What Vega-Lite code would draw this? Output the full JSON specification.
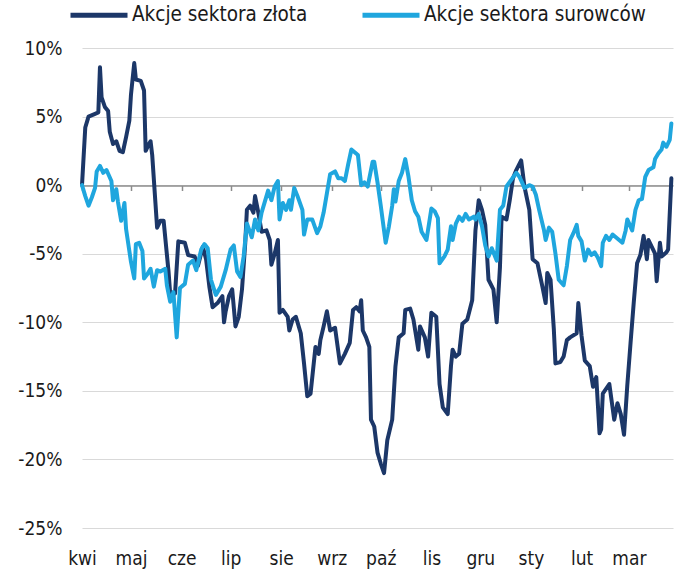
{
  "$schema": "https://vega.github.io/schema/vega-lite/v6.json",
  "width": 591,
  "height": 480,
  "autosize": {"type": "none"},
  "padding": {"left": 82, "top": 48, "right": 22, "bottom": 59},
  "background": "white",
  "config": {
    "view": {"stroke": null},
    "font": "Liberation Sans Narrow, DejaVu Sans Condensed, Roboto, sans-serif"
  },
  "data": {
    "values": [
      {"date": "2023-04-01", "series": "Akcje sektora złota", "value": 0.0},
      {"date": "2023-04-03", "series": "Akcje sektora złota", "value": 4.2},
      {"date": "2023-04-05", "series": "Akcje sektora złota", "value": 5.0},
      {"date": "2023-04-09", "series": "Akcje sektora złota", "value": 5.2},
      {"date": "2023-04-11", "series": "Akcje sektora złota", "value": 5.3},
      {"date": "2023-04-12", "series": "Akcje sektora złota", "value": 8.6},
      {"date": "2023-04-13", "series": "Akcje sektora złota", "value": 6.4},
      {"date": "2023-04-15", "series": "Akcje sektora złota", "value": 5.7},
      {"date": "2023-04-17", "series": "Akcje sektora złota", "value": 5.4},
      {"date": "2023-04-18", "series": "Akcje sektora złota", "value": 3.9},
      {"date": "2023-04-20", "series": "Akcje sektora złota", "value": 3.0},
      {"date": "2023-04-22", "series": "Akcje sektora złota", "value": 3.2},
      {"date": "2023-04-24", "series": "Akcje sektora złota", "value": 2.5},
      {"date": "2023-04-26", "series": "Akcje sektora złota", "value": 2.4},
      {"date": "2023-04-28", "series": "Akcje sektora złota", "value": 3.5},
      {"date": "2023-04-30", "series": "Akcje sektora złota", "value": 4.7},
      {"date": "2023-05-01", "series": "Akcje sektora złota", "value": 6.6},
      {"date": "2023-05-03", "series": "Akcje sektora złota", "value": 8.9},
      {"date": "2023-05-04", "series": "Akcje sektora złota", "value": 7.7},
      {"date": "2023-05-07", "series": "Akcje sektora złota", "value": 7.6},
      {"date": "2023-05-09", "series": "Akcje sektora złota", "value": 6.9},
      {"date": "2023-05-10", "series": "Akcje sektora złota", "value": 2.5},
      {"date": "2023-05-12", "series": "Akcje sektora złota", "value": 3.0},
      {"date": "2023-05-13", "series": "Akcje sektora złota", "value": 3.2},
      {"date": "2023-05-14", "series": "Akcje sektora złota", "value": 2.2},
      {"date": "2023-05-17", "series": "Akcje sektora złota", "value": -3.1},
      {"date": "2023-05-19", "series": "Akcje sektora złota", "value": -2.6},
      {"date": "2023-05-21", "series": "Akcje sektora złota", "value": -2.6},
      {"date": "2023-05-24", "series": "Akcje sektora złota", "value": -6.3},
      {"date": "2023-05-25", "series": "Akcje sektora złota", "value": -7.9},
      {"date": "2023-05-28", "series": "Akcje sektora złota", "value": -7.9},
      {"date": "2023-05-30", "series": "Akcje sektora złota", "value": -4.1},
      {"date": "2023-06-03", "series": "Akcje sektora złota", "value": -4.2},
      {"date": "2023-06-05", "series": "Akcje sektora złota", "value": -5.1},
      {"date": "2023-06-09", "series": "Akcje sektora złota", "value": -5.2},
      {"date": "2023-06-11", "series": "Akcje sektora złota", "value": -5.9},
      {"date": "2023-06-14", "series": "Akcje sektora złota", "value": -4.5},
      {"date": "2023-06-16", "series": "Akcje sektora złota", "value": -5.4},
      {"date": "2023-06-18", "series": "Akcje sektora złota", "value": -7.4},
      {"date": "2023-06-20", "series": "Akcje sektora złota", "value": -8.9},
      {"date": "2023-06-23", "series": "Akcje sektora złota", "value": -8.6},
      {"date": "2023-06-26", "series": "Akcje sektora złota", "value": -8.1},
      {"date": "2023-06-27", "series": "Akcje sektora złota", "value": -10.0},
      {"date": "2023-06-28", "series": "Akcje sektora złota", "value": -9.2},
      {"date": "2023-06-30", "series": "Akcje sektora złota", "value": -8.1},
      {"date": "2023-07-02", "series": "Akcje sektora złota", "value": -7.6},
      {"date": "2023-07-04", "series": "Akcje sektora złota", "value": -10.3},
      {"date": "2023-07-06", "series": "Akcje sektora złota", "value": -9.6},
      {"date": "2023-07-08", "series": "Akcje sektora złota", "value": -7.6},
      {"date": "2023-07-10", "series": "Akcje sektora złota", "value": -4.2},
      {"date": "2023-07-11", "series": "Akcje sektora złota", "value": -1.8},
      {"date": "2023-07-13", "series": "Akcje sektora złota", "value": -1.5},
      {"date": "2023-07-15", "series": "Akcje sektora złota", "value": -2.0},
      {"date": "2023-07-16", "series": "Akcje sektora złota", "value": -0.8},
      {"date": "2023-07-18", "series": "Akcje sektora złota", "value": -2.0},
      {"date": "2023-07-20", "series": "Akcje sektora złota", "value": -3.4},
      {"date": "2023-07-23", "series": "Akcje sektora złota", "value": -3.3},
      {"date": "2023-07-25", "series": "Akcje sektora złota", "value": -4.0},
      {"date": "2023-07-26", "series": "Akcje sektora złota", "value": -5.8},
      {"date": "2023-07-28", "series": "Akcje sektora złota", "value": -5.0},
      {"date": "2023-07-30", "series": "Akcje sektora złota", "value": -4.0},
      {"date": "2023-07-31", "series": "Akcje sektora złota", "value": -9.3},
      {"date": "2023-08-02", "series": "Akcje sektora złota", "value": -9.1},
      {"date": "2023-08-05", "series": "Akcje sektora złota", "value": -9.6},
      {"date": "2023-08-06", "series": "Akcje sektora złota", "value": -10.6},
      {"date": "2023-08-08", "series": "Akcje sektora złota", "value": -9.8},
      {"date": "2023-08-10", "series": "Akcje sektora złota", "value": -9.6},
      {"date": "2023-08-13", "series": "Akcje sektora złota", "value": -10.8},
      {"date": "2023-08-15", "series": "Akcje sektora złota", "value": -13.0},
      {"date": "2023-08-17", "series": "Akcje sektora złota", "value": -15.4},
      {"date": "2023-08-19", "series": "Akcje sektora złota", "value": -15.2},
      {"date": "2023-08-22", "series": "Akcje sektora złota", "value": -11.8},
      {"date": "2023-08-24", "series": "Akcje sektora złota", "value": -12.3},
      {"date": "2023-08-25", "series": "Akcje sektora złota", "value": -11.3},
      {"date": "2023-08-27", "series": "Akcje sektora złota", "value": -10.3},
      {"date": "2023-08-29", "series": "Akcje sektora złota", "value": -9.2},
      {"date": "2023-08-31", "series": "Akcje sektora złota", "value": -10.6},
      {"date": "2023-09-03", "series": "Akcje sektora złota", "value": -10.4},
      {"date": "2023-09-06", "series": "Akcje sektora złota", "value": -13.0},
      {"date": "2023-09-09", "series": "Akcje sektora złota", "value": -12.3},
      {"date": "2023-09-12", "series": "Akcje sektora złota", "value": -11.5},
      {"date": "2023-09-14", "series": "Akcje sektora złota", "value": -9.1},
      {"date": "2023-09-16", "series": "Akcje sektora złota", "value": -8.9},
      {"date": "2023-09-18", "series": "Akcje sektora złota", "value": -9.2},
      {"date": "2023-09-19", "series": "Akcje sektora złota", "value": -8.4},
      {"date": "2023-09-20", "series": "Akcje sektora złota", "value": -10.6},
      {"date": "2023-09-22", "series": "Akcje sektora złota", "value": -11.1},
      {"date": "2023-09-24", "series": "Akcje sektora złota", "value": -11.8},
      {"date": "2023-09-25", "series": "Akcje sektora złota", "value": -17.1},
      {"date": "2023-09-27", "series": "Akcje sektora złota", "value": -17.6},
      {"date": "2023-09-29", "series": "Akcje sektora złota", "value": -19.5},
      {"date": "2023-10-01", "series": "Akcje sektora złota", "value": -20.3},
      {"date": "2023-10-03", "series": "Akcje sektora złota", "value": -21.0},
      {"date": "2023-10-05", "series": "Akcje sektora złota", "value": -18.6},
      {"date": "2023-10-08", "series": "Akcje sektora złota", "value": -17.1},
      {"date": "2023-10-10", "series": "Akcje sektora złota", "value": -13.2},
      {"date": "2023-10-12", "series": "Akcje sektora złota", "value": -11.1},
      {"date": "2023-10-15", "series": "Akcje sektora złota", "value": -10.8},
      {"date": "2023-10-16", "series": "Akcje sektora złota", "value": -9.1},
      {"date": "2023-10-19", "series": "Akcje sektora złota", "value": -9.0},
      {"date": "2023-10-21", "series": "Akcje sektora złota", "value": -9.8},
      {"date": "2023-10-24", "series": "Akcje sektora złota", "value": -12.0},
      {"date": "2023-10-25", "series": "Akcje sektora złota", "value": -10.3},
      {"date": "2023-10-28", "series": "Akcje sektora złota", "value": -11.1},
      {"date": "2023-10-30", "series": "Akcje sektora złota", "value": -12.5},
      {"date": "2023-11-01", "series": "Akcje sektora złota", "value": -9.3},
      {"date": "2023-11-04", "series": "Akcje sektora złota", "value": -9.6},
      {"date": "2023-11-06", "series": "Akcje sektora złota", "value": -14.5},
      {"date": "2023-11-08", "series": "Akcje sektora złota", "value": -16.2},
      {"date": "2023-11-11", "series": "Akcje sektora złota", "value": -16.7},
      {"date": "2023-11-13", "series": "Akcje sektora złota", "value": -13.2},
      {"date": "2023-11-14", "series": "Akcje sektora złota", "value": -12.0},
      {"date": "2023-11-16", "series": "Akcje sektora złota", "value": -12.5},
      {"date": "2023-11-18", "series": "Akcje sektora złota", "value": -12.3},
      {"date": "2023-11-20", "series": "Akcje sektora złota", "value": -10.1},
      {"date": "2023-11-23", "series": "Akcje sektora złota", "value": -9.8},
      {"date": "2023-11-26", "series": "Akcje sektora złota", "value": -8.4},
      {"date": "2023-11-28", "series": "Akcje sektora złota", "value": -3.3},
      {"date": "2023-11-30", "series": "Akcje sektora złota", "value": -1.1},
      {"date": "2023-12-02", "series": "Akcje sektora złota", "value": -1.8},
      {"date": "2023-12-04", "series": "Akcje sektora złota", "value": -2.9},
      {"date": "2023-12-06", "series": "Akcje sektora złota", "value": -6.9},
      {"date": "2023-12-09", "series": "Akcje sektora złota", "value": -7.6},
      {"date": "2023-12-11", "series": "Akcje sektora złota", "value": -10.0},
      {"date": "2023-12-13", "series": "Akcje sektora złota", "value": -6.0},
      {"date": "2023-12-14", "series": "Akcje sektora złota", "value": -2.3},
      {"date": "2023-12-17", "series": "Akcje sektora złota", "value": -2.5},
      {"date": "2023-12-19", "series": "Akcje sektora złota", "value": -1.1},
      {"date": "2023-12-21", "series": "Akcje sektora złota", "value": 0.5},
      {"date": "2023-12-23", "series": "Akcje sektora złota", "value": 1.1},
      {"date": "2023-12-26", "series": "Akcje sektora złota", "value": 1.8},
      {"date": "2023-12-28", "series": "Akcje sektora złota", "value": -0.1},
      {"date": "2023-12-31", "series": "Akcje sektora złota", "value": -1.8},
      {"date": "2024-01-02", "series": "Akcje sektora złota", "value": -5.4},
      {"date": "2024-01-05", "series": "Akcje sektora złota", "value": -5.7},
      {"date": "2024-01-08", "series": "Akcje sektora złota", "value": -7.4},
      {"date": "2024-01-10", "series": "Akcje sektora złota", "value": -8.6},
      {"date": "2024-01-11", "series": "Akcje sektora złota", "value": -6.4},
      {"date": "2024-01-13", "series": "Akcje sektora złota", "value": -6.9},
      {"date": "2024-01-15", "series": "Akcje sektora złota", "value": -10.5},
      {"date": "2024-01-16", "series": "Akcje sektora złota", "value": -13.0},
      {"date": "2024-01-19", "series": "Akcje sektora złota", "value": -12.9},
      {"date": "2024-01-21", "series": "Akcje sektora złota", "value": -12.5},
      {"date": "2024-01-23", "series": "Akcje sektora złota", "value": -11.3},
      {"date": "2024-01-25", "series": "Akcje sektora złota", "value": -11.1},
      {"date": "2024-01-29", "series": "Akcje sektora złota", "value": -10.8},
      {"date": "2024-01-30", "series": "Akcje sektora złota", "value": -8.6},
      {"date": "2024-02-01", "series": "Akcje sektora złota", "value": -11.0},
      {"date": "2024-02-03", "series": "Akcje sektora złota", "value": -12.8},
      {"date": "2024-02-06", "series": "Akcje sektora złota", "value": -13.2},
      {"date": "2024-02-08", "series": "Akcje sektora złota", "value": -14.7},
      {"date": "2024-02-10", "series": "Akcje sektora złota", "value": -14.0},
      {"date": "2024-02-12", "series": "Akcje sektora złota", "value": -18.1},
      {"date": "2024-02-13", "series": "Akcje sektora złota", "value": -17.8},
      {"date": "2024-02-14", "series": "Akcje sektora złota", "value": -15.2},
      {"date": "2024-02-18", "series": "Akcje sektora złota", "value": -14.5},
      {"date": "2024-02-21", "series": "Akcje sektora złota", "value": -17.1},
      {"date": "2024-02-23", "series": "Akcje sektora złota", "value": -15.9},
      {"date": "2024-02-25", "series": "Akcje sektora złota", "value": -16.7},
      {"date": "2024-02-27", "series": "Akcje sektora złota", "value": -18.2},
      {"date": "2024-02-29", "series": "Akcje sektora złota", "value": -14.6},
      {"date": "2024-03-02", "series": "Akcje sektora złota", "value": -11.5},
      {"date": "2024-03-04", "series": "Akcje sektora złota", "value": -8.5},
      {"date": "2024-03-06", "series": "Akcje sektora złota", "value": -5.7},
      {"date": "2024-03-08", "series": "Akcje sektora złota", "value": -5.1},
      {"date": "2024-03-10", "series": "Akcje sektora złota", "value": -3.7},
      {"date": "2024-03-12", "series": "Akcje sektora złota", "value": -5.4},
      {"date": "2024-03-13", "series": "Akcje sektora złota", "value": -4.0},
      {"date": "2024-03-15", "series": "Akcje sektora złota", "value": -4.5},
      {"date": "2024-03-17", "series": "Akcje sektora złota", "value": -5.0},
      {"date": "2024-03-18", "series": "Akcje sektora złota", "value": -7.0},
      {"date": "2024-03-20", "series": "Akcje sektora złota", "value": -4.2},
      {"date": "2024-03-21", "series": "Akcje sektora złota", "value": -5.2},
      {"date": "2024-03-24", "series": "Akcje sektora złota", "value": -4.9},
      {"date": "2024-03-25", "series": "Akcje sektora złota", "value": -4.7},
      {"date": "2024-03-27", "series": "Akcje sektora złota", "value": 0.5},
      {"date": "2023-04-01", "series": "Akcje sektora surowców", "value": 0.0},
      {"date": "2023-04-03", "series": "Akcje sektora surowców", "value": -0.8},
      {"date": "2023-04-05", "series": "Akcje sektora surowców", "value": -1.5},
      {"date": "2023-04-07", "series": "Akcje sektora surowców", "value": -0.9},
      {"date": "2023-04-09", "series": "Akcje sektora surowców", "value": -0.2},
      {"date": "2023-04-10", "series": "Akcje sektora surowców", "value": 1.0},
      {"date": "2023-04-12", "series": "Akcje sektora surowców", "value": 1.4},
      {"date": "2023-04-14", "series": "Akcje sektora surowców", "value": 0.9},
      {"date": "2023-04-16", "series": "Akcje sektora surowców", "value": 1.1},
      {"date": "2023-04-19", "series": "Akcje sektora surowców", "value": 0.3},
      {"date": "2023-04-20", "series": "Akcje sektora surowców", "value": -1.1},
      {"date": "2023-04-22", "series": "Akcje sektora surowców", "value": -0.3},
      {"date": "2023-04-23", "series": "Akcje sektora surowców", "value": -1.2},
      {"date": "2023-04-25", "series": "Akcje sektora surowców", "value": -2.6},
      {"date": "2023-04-27", "series": "Akcje sektora surowców", "value": -1.3},
      {"date": "2023-04-28", "series": "Akcje sektora surowców", "value": -3.2},
      {"date": "2023-05-01", "series": "Akcje sektora surowców", "value": -5.6},
      {"date": "2023-05-03", "series": "Akcje sektora surowców", "value": -6.8},
      {"date": "2023-05-04", "series": "Akcje sektora surowców", "value": -4.3},
      {"date": "2023-05-06", "series": "Akcje sektora surowców", "value": -4.2},
      {"date": "2023-05-08", "series": "Akcje sektora surowców", "value": -4.8},
      {"date": "2023-05-09", "series": "Akcje sektora surowców", "value": -6.8},
      {"date": "2023-05-11", "series": "Akcje sektora surowców", "value": -6.5},
      {"date": "2023-05-13", "series": "Akcje sektora surowców", "value": -6.1},
      {"date": "2023-05-15", "series": "Akcje sektora surowców", "value": -7.4},
      {"date": "2023-05-17", "series": "Akcje sektora surowców", "value": -6.2},
      {"date": "2023-05-19", "series": "Akcje sektora surowców", "value": -6.3},
      {"date": "2023-05-22", "series": "Akcje sektora surowców", "value": -6.1},
      {"date": "2023-05-23", "series": "Akcje sektora surowców", "value": -7.3},
      {"date": "2023-05-25", "series": "Akcje sektora surowców", "value": -8.5},
      {"date": "2023-05-27", "series": "Akcje sektora surowców", "value": -7.8},
      {"date": "2023-05-29", "series": "Akcje sektora surowców", "value": -11.1},
      {"date": "2023-05-31", "series": "Akcje sektora surowców", "value": -7.5},
      {"date": "2023-06-03", "series": "Akcje sektora surowców", "value": -7.2},
      {"date": "2023-06-05", "series": "Akcje sektora surowców", "value": -5.8},
      {"date": "2023-06-08", "series": "Akcje sektora surowców", "value": -5.5},
      {"date": "2023-06-10", "series": "Akcje sektora surowców", "value": -6.2},
      {"date": "2023-06-13", "series": "Akcje sektora surowców", "value": -4.7},
      {"date": "2023-06-15", "series": "Akcje sektora surowców", "value": -4.3},
      {"date": "2023-06-17", "series": "Akcje sektora surowców", "value": -4.6},
      {"date": "2023-06-19", "series": "Akcje sektora surowców", "value": -6.9},
      {"date": "2023-06-22", "series": "Akcje sektora surowców", "value": -8.0},
      {"date": "2023-06-25", "series": "Akcje sektora surowców", "value": -7.4},
      {"date": "2023-06-28", "series": "Akcje sektora surowców", "value": -6.2},
      {"date": "2023-07-01", "series": "Akcje sektora surowców", "value": -4.7},
      {"date": "2023-07-03", "series": "Akcje sektora surowców", "value": -4.4},
      {"date": "2023-07-05", "series": "Akcje sektora surowców", "value": -6.3},
      {"date": "2023-07-07", "series": "Akcje sektora surowców", "value": -6.7},
      {"date": "2023-07-09", "series": "Akcje sektora surowców", "value": -5.2},
      {"date": "2023-07-11", "series": "Akcje sektora surowców", "value": -2.8},
      {"date": "2023-07-14", "series": "Akcje sektora surowców", "value": -3.8},
      {"date": "2023-07-16", "series": "Akcje sektora surowców", "value": -2.5},
      {"date": "2023-07-18", "series": "Akcje sektora surowców", "value": -3.3},
      {"date": "2023-07-20", "series": "Akcje sektora surowców", "value": -2.0},
      {"date": "2023-07-22", "series": "Akcje sektora surowców", "value": -1.2},
      {"date": "2023-07-24", "series": "Akcje sektora surowców", "value": -0.4},
      {"date": "2023-07-26", "series": "Akcje sektora surowców", "value": -1.1},
      {"date": "2023-07-28", "series": "Akcje sektora surowców", "value": -0.1},
      {"date": "2023-07-30", "series": "Akcje sektora surowców", "value": 0.3},
      {"date": "2023-07-31", "series": "Akcje sektora surowców", "value": -2.5},
      {"date": "2023-08-02", "series": "Akcje sektora surowców", "value": -1.3},
      {"date": "2023-08-04", "series": "Akcje sektora surowców", "value": -1.8},
      {"date": "2023-08-06", "series": "Akcje sektora surowców", "value": -1.1},
      {"date": "2023-08-07", "series": "Akcje sektora surowców", "value": -1.8},
      {"date": "2023-08-09", "series": "Akcje sektora surowców", "value": -0.2},
      {"date": "2023-08-11", "series": "Akcje sektora surowców", "value": -0.8},
      {"date": "2023-08-14", "series": "Akcje sektora surowców", "value": -1.8},
      {"date": "2023-08-15", "series": "Akcje sektora surowców", "value": -3.6},
      {"date": "2023-08-17", "series": "Akcje sektora surowców", "value": -2.5},
      {"date": "2023-08-20", "series": "Akcje sektora surowców", "value": -2.5},
      {"date": "2023-08-23", "series": "Akcje sektora surowców", "value": -3.5},
      {"date": "2023-08-25", "series": "Akcje sektora surowców", "value": -3.0},
      {"date": "2023-08-27", "series": "Akcje sektora surowców", "value": -2.0},
      {"date": "2023-08-29", "series": "Akcje sektora surowców", "value": -0.6},
      {"date": "2023-08-31", "series": "Akcje sektora surowców", "value": 0.8},
      {"date": "2023-09-03", "series": "Akcje sektora surowców", "value": 1.0},
      {"date": "2023-09-05", "series": "Akcje sektora surowców", "value": 0.5},
      {"date": "2023-09-07", "series": "Akcje sektora surowców", "value": 0.5},
      {"date": "2023-09-09", "series": "Akcje sektora surowców", "value": 0.3},
      {"date": "2023-09-11", "series": "Akcje sektora surowców", "value": 1.5},
      {"date": "2023-09-13", "series": "Akcje sektora surowców", "value": 2.6},
      {"date": "2023-09-15", "series": "Akcje sektora surowców", "value": 2.4},
      {"date": "2023-09-17", "series": "Akcje sektora surowców", "value": 2.2},
      {"date": "2023-09-19", "series": "Akcje sektora surowców", "value": 0.0},
      {"date": "2023-09-21", "series": "Akcje sektora surowców", "value": 0.2},
      {"date": "2023-09-23", "series": "Akcje sektora surowców", "value": -0.1},
      {"date": "2023-09-26", "series": "Akcje sektora surowców", "value": 1.7},
      {"date": "2023-09-27", "series": "Akcje sektora surowców", "value": 1.7},
      {"date": "2023-09-29", "series": "Akcje sektora surowców", "value": 0.2},
      {"date": "2023-10-01", "series": "Akcje sektora surowców", "value": -1.5},
      {"date": "2023-10-04", "series": "Akcje sektora surowców", "value": -4.2},
      {"date": "2023-10-06", "series": "Akcje sektora surowców", "value": -3.0},
      {"date": "2023-10-08", "series": "Akcje sektora surowców", "value": -1.5},
      {"date": "2023-10-09", "series": "Akcje sektora surowców", "value": -0.3},
      {"date": "2023-10-10", "series": "Akcje sektora surowców", "value": -1.2},
      {"date": "2023-10-12", "series": "Akcje sektora surowców", "value": 0.3},
      {"date": "2023-10-14", "series": "Akcje sektora surowców", "value": 0.9},
      {"date": "2023-10-16", "series": "Akcje sektora surowców", "value": 1.9},
      {"date": "2023-10-18", "series": "Akcje sektora surowców", "value": 0.6},
      {"date": "2023-10-20", "series": "Akcje sektora surowców", "value": -1.1},
      {"date": "2023-10-22", "series": "Akcje sektora surowców", "value": -1.9},
      {"date": "2023-10-24", "series": "Akcje sektora surowców", "value": -2.3},
      {"date": "2023-10-26", "series": "Akcje sektora surowców", "value": -3.4},
      {"date": "2023-10-29", "series": "Akcje sektora surowców", "value": -4.0},
      {"date": "2023-11-01", "series": "Akcje sektora surowców", "value": -1.7},
      {"date": "2023-11-03", "series": "Akcje sektora surowców", "value": -1.9},
      {"date": "2023-11-05", "series": "Akcje sektora surowców", "value": -2.4},
      {"date": "2023-11-06", "series": "Akcje sektora surowców", "value": -5.7},
      {"date": "2023-11-09", "series": "Akcje sektora surowców", "value": -5.2},
      {"date": "2023-11-11", "series": "Akcje sektora surowców", "value": -4.7},
      {"date": "2023-11-13", "series": "Akcje sektora surowców", "value": -3.0},
      {"date": "2023-11-14", "series": "Akcje sektora surowców", "value": -4.0},
      {"date": "2023-11-16", "series": "Akcje sektora surowców", "value": -2.8},
      {"date": "2023-11-18", "series": "Akcje sektora surowców", "value": -2.3},
      {"date": "2023-11-20", "series": "Akcje sektora surowców", "value": -2.6},
      {"date": "2023-11-22", "series": "Akcje sektora surowców", "value": -2.1},
      {"date": "2023-11-24", "series": "Akcje sektora surowców", "value": -2.5},
      {"date": "2023-11-27", "series": "Akcje sektora surowców", "value": -2.3},
      {"date": "2023-11-28", "series": "Akcje sektora surowców", "value": -2.5},
      {"date": "2023-11-30", "series": "Akcje sektora surowców", "value": -2.1},
      {"date": "2023-12-02", "series": "Akcje sektora surowców", "value": -3.0},
      {"date": "2023-12-04", "series": "Akcje sektora surowców", "value": -4.4},
      {"date": "2023-12-06", "series": "Akcje sektora surowców", "value": -5.2},
      {"date": "2023-12-08", "series": "Akcje sektora surowców", "value": -4.6},
      {"date": "2023-12-11", "series": "Akcje sektora surowców", "value": -5.5},
      {"date": "2023-12-13", "series": "Akcje sektora surowców", "value": -1.8},
      {"date": "2023-12-15", "series": "Akcje sektora surowców", "value": -1.5},
      {"date": "2023-12-17", "series": "Akcje sektora surowców", "value": -0.1},
      {"date": "2023-12-20", "series": "Akcje sektora surowców", "value": 0.4},
      {"date": "2023-12-23", "series": "Akcje sektora surowców", "value": 0.9},
      {"date": "2023-12-25", "series": "Akcje sektora surowców", "value": 0.6},
      {"date": "2023-12-28", "series": "Akcje sektora surowców", "value": -0.2},
      {"date": "2023-12-31", "series": "Akcje sektora surowców", "value": 0.0},
      {"date": "2024-01-02", "series": "Akcje sektora surowców", "value": -0.1},
      {"date": "2024-01-04", "series": "Akcje sektora surowców", "value": -0.7},
      {"date": "2024-01-06", "series": "Akcje sektora surowców", "value": -1.8},
      {"date": "2024-01-09", "series": "Akcje sektora surowców", "value": -3.3},
      {"date": "2024-01-10", "series": "Akcje sektora surowców", "value": -4.0},
      {"date": "2024-01-12", "series": "Akcje sektora surowców", "value": -3.1},
      {"date": "2024-01-14", "series": "Akcje sektora surowców", "value": -3.4},
      {"date": "2024-01-16", "series": "Akcje sektora surowców", "value": -5.0},
      {"date": "2024-01-18", "series": "Akcje sektora surowców", "value": -6.9},
      {"date": "2024-01-21", "series": "Akcje sektora surowców", "value": -7.3},
      {"date": "2024-01-23", "series": "Akcje sektora surowców", "value": -5.9},
      {"date": "2024-01-25", "series": "Akcje sektora surowców", "value": -4.0},
      {"date": "2024-01-27", "series": "Akcje sektora surowców", "value": -3.5},
      {"date": "2024-01-29", "series": "Akcje sektora surowców", "value": -2.9},
      {"date": "2024-01-30", "series": "Akcje sektora surowców", "value": -3.7},
      {"date": "2024-02-01", "series": "Akcje sektora surowców", "value": -4.1},
      {"date": "2024-02-03", "series": "Akcje sektora surowców", "value": -5.5},
      {"date": "2024-02-05", "series": "Akcje sektora surowców", "value": -4.7},
      {"date": "2024-02-07", "series": "Akcje sektora surowców", "value": -5.1},
      {"date": "2024-02-09", "series": "Akcje sektora surowców", "value": -4.9},
      {"date": "2024-02-11", "series": "Akcje sektora surowców", "value": -5.3},
      {"date": "2024-02-13", "series": "Akcje sektora surowców", "value": -5.9},
      {"date": "2024-02-14", "series": "Akcje sektora surowców", "value": -4.2},
      {"date": "2024-02-16", "series": "Akcje sektora surowców", "value": -3.7},
      {"date": "2024-02-18", "series": "Akcje sektora surowców", "value": -4.0},
      {"date": "2024-02-20", "series": "Akcje sektora surowców", "value": -3.6},
      {"date": "2024-02-22", "series": "Akcje sektora surowców", "value": -3.8},
      {"date": "2024-02-26", "series": "Akcje sektora surowców", "value": -4.2},
      {"date": "2024-02-28", "series": "Akcje sektora surowców", "value": -3.3},
      {"date": "2024-02-29", "series": "Akcje sektora surowców", "value": -2.5},
      {"date": "2024-03-03", "series": "Akcje sektora surowców", "value": -3.3},
      {"date": "2024-03-05", "series": "Akcje sektora surowców", "value": -1.8},
      {"date": "2024-03-07", "series": "Akcje sektora surowców", "value": -1.1},
      {"date": "2024-03-09", "series": "Akcje sektora surowców", "value": -1.0},
      {"date": "2024-03-11", "series": "Akcje sektora surowców", "value": 0.6},
      {"date": "2024-03-13", "series": "Akcje sektora surowców", "value": 1.1},
      {"date": "2024-03-16", "series": "Akcje sektora surowców", "value": 1.3},
      {"date": "2024-03-17", "series": "Akcje sektora surowców", "value": 1.9},
      {"date": "2024-03-19", "series": "Akcje sektora surowców", "value": 2.3},
      {"date": "2024-03-21", "series": "Akcje sektora surowców", "value": 2.6},
      {"date": "2024-03-22", "series": "Akcje sektora surowców", "value": 3.1},
      {"date": "2024-03-24", "series": "Akcje sektora surowców", "value": 2.8},
      {"date": "2024-03-26", "series": "Akcje sektora surowców", "value": 3.3},
      {"date": "2024-03-27", "series": "Akcje sektora surowców", "value": 4.5}
    ]
  },
  "mark": {"type": "line", "strokeWidth": 4, "strokeJoin": "round", "strokeCap": "round"},
  "encoding": {
    "x": {
      "field": "date",
      "type": "temporal",
      "scale": {
        "type": "utc",
        "domain": [
          {"year": 2023, "month": 4, "date": 1, "utc": true},
          {"year": 2024, "month": 3, "date": 28, "utc": true}
        ]
      },
      "axis": {
        "title": null,
        "orient": "bottom",
        "offset": -342.5,
        "domain": true,
        "domainColor": "#8c8c8c",
        "domainWidth": 1.5,
        "ticks": true,
        "tickSize": 5,
        "tickColor": "#8c8c8c",
        "tickWidth": 1.5,
        "grid": false,
        "values": [
          {"year": 2023, "month": 4, "date": 1, "utc": true},
          {"year": 2023, "month": 5, "date": 1, "utc": true},
          {"year": 2023, "month": 6, "date": 1, "utc": true},
          {"year": 2023, "month": 7, "date": 1, "utc": true},
          {"year": 2023, "month": 8, "date": 1, "utc": true},
          {"year": 2023, "month": 9, "date": 1, "utc": true},
          {"year": 2023, "month": 10, "date": 1, "utc": true},
          {"year": 2023, "month": 11, "date": 1, "utc": true},
          {"year": 2023, "month": 12, "date": 1, "utc": true},
          {"year": 2024, "month": 1, "date": 1, "utc": true},
          {"year": 2024, "month": 2, "date": 1, "utc": true},
          {"year": 2024, "month": 3, "date": 1, "utc": true}
        ],
        "labelExpr": "['sty','lut','mar','kwi','maj','cze','lip','sie','wrz','paź','lis','gru'][utcmonth(datum.value)]",
        "labelPadding": 359,
        "labelFontSize": 19,
        "labelColor": "#1a1a1a",
        "labelAlign": "center",
        "labelFlush": false,
        "labelOverlap": false
      }
    },
    "y": {
      "field": "value",
      "type": "quantitative",
      "scale": {"domain": [-25, 10], "nice": false},
      "axis": {
        "title": null,
        "values": [-25, -20, -15, -10, -5, 0, 5, 10],
        "labelExpr": "datum.value + '%'",
        "domain": false,
        "ticks": false,
        "grid": true,
        "gridColor": "#d9d9d9",
        "gridWidth": 1.2,
        "labelPadding": 20,
        "labelFontSize": 19,
        "labelColor": "#1a1a1a"
      }
    },
    "color": {
      "field": "series",
      "type": "nominal",
      "scale": {
        "domain": ["Akcje sektora złota", "Akcje sektora surowców"],
        "range": ["#1c3768", "#1fa6de"]
      },
      "legend": {
        "title": null,
        "orient": "none",
        "direction": "horizontal",
        "legendX": -14,
        "legendY": -64,
        "padding": 0,
        "symbolType": "stroke",
        "symbolSize": 3249,
        "symbolStrokeWidth": 5,
        "labelFontSize": 20.5,
        "labelLimit": 400,
        "labelOffset": 2,
        "columnPadding": 44,
        "labelColor": "#1a1a1a"
      }
    }
  }
}
